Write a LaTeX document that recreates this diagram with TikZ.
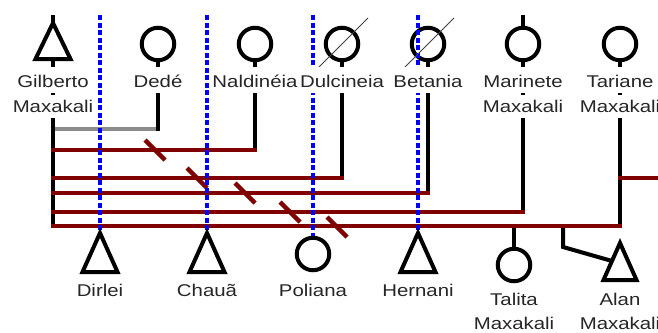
\documentclass[tikz,border=0pt]{standalone}
\usepackage{fontspec}
\setmainfont[FakeStretch=1.2]{Liberation Sans}
\definecolor{unionred}{RGB}{128,0,0}
\definecolor{tiegray}{RGB}{140,140,140}
\begin{document}
\begin{tikzpicture}[x=1pt,y=-1pt,
  female/.style={circle,draw=black,line width=4pt,fill=white,minimum size=32.5pt,inner sep=0pt},
  maleshape/.style={draw=black,line width=4pt,fill=white,line join=miter},
  pname/.style={font=\fontsize{17}{20}\selectfont,text=black!85,fill=white,
    inner xsep=0.5pt,inner ysep=2pt,text height=18pt,text depth=4pt,anchor=base},
  pnametwo/.style={pname,text height=15pt},
  tie/.style={black,line width=4pt},
  exunion/.style={tiegray,line width=3.5pt},
  union/.style={unionred,line width=4.5pt,line cap=rect},
  split/.style={unionred,line width=4.5pt},
  link/.style={blue,line width=3.5pt,dash pattern=on 5pt off 2.5pt},
  gone/.style={black!75,line width=1pt},
]
\useasboundingbox (0,0) rectangle (658,332);
\clip (0,0) rectangle (658,332);

% ---------- people: positions ----------
% parents' generation
\coordinate (gil) at (53,23);   % apex of Gilberto's triangle
\coordinate (gilB) at (53,59);  % base of Gilberto's triangle
\node[female] (dede) at (158,44) {};
\node[female] (nald) at (255,44) {};
\node[female] (dulc) at (342,44) {};
\node[female] (beta) at (428,44) {};
\node[female] (mari) at (523,44) {};
\node[female] (tari) at (620,44) {};
% children
\coordinate (dir) at (100,233);
\coordinate (cha) at (207,233);
\node[female] (pol) at (313,254) {};
\coordinate (her) at (418,233);
\node[female] (tal) at (514,265) {};
\coordinate (ala) at (620,243);

% ---------- line ends ----------
\coordinate (gilTop) at (53,15);
\coordinate (mariTop) at (523,15);
\coordinate (gilEnd) at (53,226);
\coordinate (dedeEnd) at (158,129);
\coordinate (gilDede) at (53,129);
\coordinate (naldEnd) at (255,150);
\coordinate (gilNald) at (53,150);
\coordinate (dulcEnd) at (342,178);
\coordinate (gilDulc) at (53,178);
\coordinate (betaEnd) at (428,193);
\coordinate (gilBeta) at (53,193);
\coordinate (mariEnd) at (523,212);
\coordinate (gilMari) at (53,212);
\coordinate (tariEnd) at (620,226);
\coordinate (tariOther) at (620,178);
\coordinate (offRight) at (662,178);
\coordinate (talUp) at (514,226);
\coordinate (alaUp) at (563,226);
\coordinate (alaBend) at (563,247);
\coordinate (alaSide) at (612,261);
\coordinate (lk1) at (100,15);
\coordinate (lk2) at (207,15);
\coordinate (lk3) at (313,15);
\coordinate (lk4) at (418,15);

% ---------- former union ----------
\draw[exunion] (gilDede) -- (dedeEnd);

% ---------- descent lines ----------
\draw[tie] (gilTop) -- (gil);
\draw[tie] (mariTop) -- (mari.north);
\draw[tie,line cap=rect] (gilB) -- (gilEnd);
\draw[tie,line cap=rect] (dede.south) -- (dedeEnd);
\draw[tie] (nald.south) -- (naldEnd);
\draw[tie] (dulc.south) -- (dulcEnd);
\draw[tie] (beta.south) -- (betaEnd);
\draw[tie] (mari.south) -- (mariEnd);
\draw[tie] (tari.south) -- (tariEnd);
\draw[tie] (talUp) -- (tal.north);
\draw[tie] (alaUp) -- (alaBend) -- (alaSide);

% ---------- unions ----------
\draw[union] (gilNald) -- (naldEnd);
\draw[union] (gilDulc) -- (dulcEnd);
\draw[union] (gilBeta) -- (betaEnd);
\draw[union] (gilMari) -- (mariEnd);
\draw[union] (gilEnd) -- (tariEnd);
\draw[union] (tariOther) -- (offRight);

% separation marks
\draw[split] (145,140) -- (165,160);
\draw[split] (187,168) -- (207,188);
\draw[split] (235,183) -- (255,203);
\draw[split] (280,202) -- (300,222);
\draw[split] (327,217) -- (347,237);

% ---------- filiation links ----------
\draw[link] (lk1) -- (dir);
\draw[link] (lk2) -- (cha);
\draw[link] (lk3) -- (pol.north);
\draw[link] (lk4) -- (her);

% ---------- men ----------
\draw[maleshape] (gil) -- ++(17.5,36) -- ++(-35,0) -- cycle;
\draw[maleshape] (dir) -- ++(17.5,39) -- ++(-35,0) -- cycle;
\draw[maleshape] (cha) -- ++(17.5,39) -- ++(-35,0) -- cycle;
\draw[maleshape] (her) -- ++(17.5,39) -- ++(-35,0) -- cycle;
\draw[maleshape] (ala) -- ++(16.5,37) -- ++(-33,0) -- cycle;

% deceased
\draw[gone] (dulc) ++(-26,26) -- ++(52,-52);
\draw[gone] (beta) ++(-26,26) -- ++(52,-52);

% ---------- names ----------
\node[pname] (gilN) at (53,87) {Gilberto};
\node[pnametwo] (gilN2) at (53,112) {Maxakali};
\node[pname] (dedeN) at (158,87) {Dedé};
\node[pname] (naldN) at (255,87) {Naldinéia};
\node[pname] (dulcN) at (342,87) {Dulcineia};
\node[pname] (betaN) at (428,87) {Betania};
\node[pname] (mariN) at (523,87) {Marinete};
\node[pnametwo] (mariN2) at (523,112) {Maxakali};
\node[pname] (tariN) at (620,87) {Tariane};
\node[pnametwo] (tariN2) at (620,112) {Maxakali};
\node[pname] (dirN) at (100,296) {Dirlei};
\node[pname] (chaN) at (207,296) {Chauã};
\node[pname] (polN) at (313,296) {Poliana};
\node[pname] (herN) at (418,296) {Hernani};
\node[pname] (talN) at (514,305) {Talita};
\node[pnametwo] (talN2) at (514,329) {Maxakali};
\node[pname] (alaN) at (620,305) {Alan};
\node[pnametwo] (alaN2) at (620,329) {Maxakali};
\end{tikzpicture}
\end{document}
